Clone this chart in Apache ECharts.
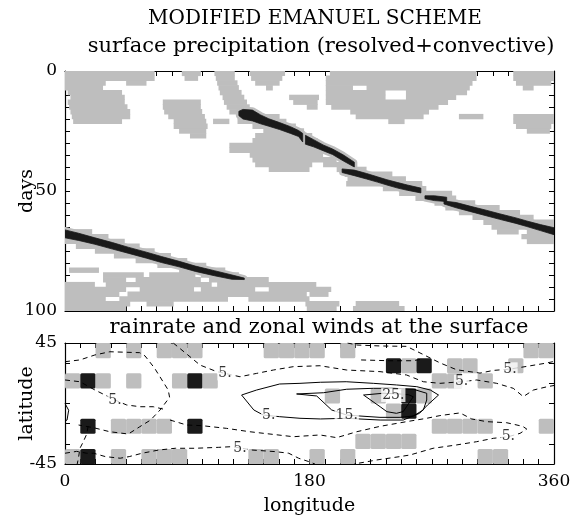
<!DOCTYPE html>
<html><head><meta charset="utf-8">
<script src="https://cdn.jsdelivr.net/npm/echarts@6/dist/echarts.min.js"></script>
<style>html,body{margin:0;padding:0;background:#fff}#c{width:574px;height:517px}</style>
</head><body><div id="c"></div>
<script>
// ---------- texts ----------
const titleText = 'MODIFIED EMANUEL SCHEME';
const subtitleTop = 'surface precipitation (resolved+convective)';
const subtitleBottom = 'rainrate and zonal winds at the surface';
const nameDays = 'days', nameLat = 'latitude', nameLon = 'longitude';

// ---------- tick labels ----------
const dayTickLabels = [0, 50, 100];
const latTickLabels = [45, -45];
const lonTickLabels = [0, 180, 360];

// ---------- top panel: surface precipitation (longitude x days) ----------
// each row: [startDay, lon1, lon2, lon3, lon4, ...] = light (gray) rain intervals over 2 days
const rowDays = 2;
const precipGray = [
  [0, 0,66, 86,100, 110,125, 136,162, 195,303, 330,360],
  [2, 0,66, 88,98, 111,125, 137,160, 192,303, 330,360],
  [4, 0,30, 45,60, 112,127, 140,158, 192,300, 332,358],
  [6, 0,28, 113,128, 148,153, 192,212, 222,298, 337,345],
  [8, 2,42, 114,130, 192,236, 251,296],
  [10, 4,44, 116,132, 165,187, 192,236, 251,288],
  [12, 2,44, 72,100, 117,134, 168,186, 192,282],
  [14, 3,46, 72,100, 119,136, 178,186, 196,275],
  [16, 4,48, 73,101, 121,140, 210,268],
  [18, 5,48, 76,103, 127,158, 214,264, 290,308, 330,360],
  [20, 6,42, 80,104, 109,121, 127,163, 238,250, 330,360],
  [22, 80,105, 138,170, 332,358],
  [24, 84,104, 146,176, 340,357],
  [26, 92,104, 140,182],
  [28, 138,186],
  [30, 121,190],
  [32, 121,195],
  [34, 136,190],
  [36, 138,200],
  [38, 140,182, 190,215],
  [40, 150,180, 200,222],
  [42, 206,241],
  [44, 208,251],
  [46, 207,263],
  [48, 234,266],
  [50, 246,285],
  [52, 258,288],
  [54, 272,302],
  [56, 280,320],
  [58, 290,335],
  [60, 300,345],
  [62, 308,360],
  [64, 314,360],
  [66, 0,20, 318,334, 340,360],
  [68, 0,32, 336,360],
  [70, 0,44, 340,360],
  [72, 8,55],
  [74, 22,66],
  [76, 36,78],
  [78, 52,90],
  [80, 68,104],
  [82, 3,25, 84,118],
  [84, 28,58, 62,96, 100,128],
  [86, 28,45, 52,100, 106,150],
  [88, 0,22, 30,108, 112,185],
  [90, 0,45, 55,95, 100,140, 150,196],
  [92, 0,40, 46,178, 180,194],
  [94, 0,30, 40,120, 135,180],
  [96, 0,48, 60,80, 177,202, 214,246],
  [98, 0,45, 178,200, 212,250]
];
// heavy rain streak pieces: [lon, topDay, bottomDay]
const streakPieces = [
  [[128,16.8,18.6],[131,16.0,20.0],[138,16.3,20.8],[144,18.3,22.0],[150,19.9,23.0],[158,21.5,24.4],[166,23.2,26.0],[172,24.8,27.3],[175,26.0,29.6]],
  [[177,26.8,30.5],[183,28.6,31.6],[190,30.8,33.2],[197,32.5,34.8],[205,35.0,37.5],[213,38.0,40.0]],
  [[204,40.8,42.3],[213,41.3,43.6],[222,42.7,45.0],[230,44.1,46.3],[237,45.3,47.5],[245,46.5,48.8],[252,47.5,49.7],[262,48.8,50.8]],
  [[265,52.0,53.2],[272,52.0,54.0],[281,52.6,54.4]],
  [[279,54.2,55.4],[288,54.8,57.0],[298,56.3,58.5],[310,58.0,60.3],[320,59.5,61.8],[332,61.2,63.5],[340,62.5,64.8],[350,64.0,66.5],[360,65.3,68.2]],
  [[0,66.2,69.5],[10,67.6,70.6],[22,69.5,72.2],[35,71.5,74.2],[47,73.5,76.0],[60,75.5,78.0],[71,77.3,79.8],[84,79.3,81.6],[96,81.3,83.5],[110,83.2,85.3],[123,85.0,86.8],[132,86.3,86.9]]
];

// ---------- bottom panel: rain rate on the model grid ----------
const lonStep = 11.25, latStep = 11.25;
const rainLats = [39.375, 28.125, 16.875, 5.625, -5.625, -16.875, -28.125, -39.375];
// 32 longitude cells per row, '.' none, 'g' light, 'b' heavy
const rainRows = [
  '..g.g.ggg....gggg.g...........gg',
  '.....................bgb.gg..g..',
  'gbg.g..gbg..............gg.g....',
  '.................g..g.bg........',
  '.....................gb.........',
  '.b.gggg.b...............gggg...g',
  '...................gggg.........',
  'gb.g.ggg....gg..g.g........gg...'
];

// zonal wind contours [lon, lat]
const windSolid = [
  [[130,6.3],[141,10],[158,14.5],[173,15],[188,15.8],[207,16.2],[227,15],[244,13.8],[259,12.5],[269,10],[275,6.3],[267,-1],[261,-7.3],[249,-12.3],[232,-12.3],[207,-11],[188,-11.5],[173,-11],[158,-9.8],[146,-8.6],[139,-4.8],[130,6.3]],
  [[170.5,7.1],[185.3,5.6],[196.3,-4.8],[207.4,-8.6],[217,-9.3],[231.9,-10.3],[246.6,-10.3],[256.4,-9.3],[263.8,-4.8],[266.3,2.6],[266.3,7.6],[256.4,10.6],[241.7,11.3],[227,11.3],[207.4,10.6],[190.2,8],[170.5,7.1]],
  [[219.8,6.3],[234,7.6],[245,7.2],[253,6.5],[256.4,5],[249,-6],[244,-7.3],[237,-6.1],[232,-2.4],[219.8,6.3]],
  [[0,0],[2.7,-5],[1.5,-12.3],[0,-13]]
];
const windDashed = [
  [[0,31.1],[11,32.4],[22,36.1],[33,38.5],[55,37.8],[59,35.3],[66,26.2],[76,10],[77,4.6],[70,-4.8],[63,-12.3],[55,-17.3],[46.6,-22.7],[33,-21],[21,-18],[10,-16]],
  [[17,-17],[16,-22.7],[13.5,-28.4],[11,-33.3],[10,-40],[9,-45]],
  [[79.7,45],[92,34.8],[99.4,28.6],[111.7,23.7],[117.8,22.4],[128.8,19.9],[141.1,22.4],[153.4,24.9],[168.1,27.4],[187.7,28.1],[207.4,24.9],[231.9,23.7],[251.5,21.2],[263.8,16.2],[276.1,15],[292,16.2],[303.1,17.5],[317.8,15],[330,11.3],[337.4,5.1],[344.8,10],[354.6,12.4],[360,13.4]],
  [[208,45],[215,43.5],[232,42.8],[251.5,42.5],[263.8,36.4],[276.1,30.2],[288.3,25.1],[305.5,22.6],[315.3,24.6],[327.6,25.6],[339.9,27.6],[354.6,30.1],[360,31.3]],
  [[218,32.4],[239,31.8],[256,31.8],[263,33]],
  [[0,17.5],[11,16.2],[22.1,10],[31.9,5.1],[36.8,2.6],[45.4,-1.1],[55.2,-2.4],[65,-2.4],[74.9,-4.8]],
  [[77.3,-12.3],[89.6,-16],[101,-16.5],[119,-18.5],[136,-21],[153.4,-23],[168.1,-24.7],[187.7,-23.4],[200,-25.4],[214.8,-21],[231.9,-17],[251.5,-13.5],[266.3,-11],[276,-9],[290.8,-7],[299.4,-11.5],[310.4,-13.5],[325.2,-14.3],[337,-17],[339.9,-19],[335,-22.2],[326.4,-24.7],[315.3,-25.9],[303.1,-28.4],[288.4,-30.8],[271,-33.3],[254,-38.3],[246.6,-39.5],[229.5,-42],[213,-45]],
  [[0,-37],[8.6,-35.6],[16,-37],[21.1,-37],[29.7,-39.5],[40.6,-40.7],[47.3,-39.5],[56.7,-37],[69,-34.6],[81.2,-33.3],[95.9,-33.3],[113.2,-32.6],[123,-32.1],[130.3,-33.3],[137.7,-34.6],[154.9,-35.8],[164.7,-37],[172,-40.7],[179.4,-43.2],[184,-45]]
];
const windLabels = [
  [117.8, 22.4, '5.'], [36.8, 2.6, '5.'], [150, -8.6, '5.'], [128.8, -33.3, '5.'],
  [207.4, -8.6, '15.'], [241.7, 6.3, '25.'], [292, 16.2, '5.'], [327.6, 25.4, '5.'], [326.4, -24.7, '5.']
];

// ---------- styles ----------
const GRAY = '#bebebe', BLACK = '#1a1a1a';
const SERIF = "'DejaVu Serif', 'Liberation Serif', serif";

// ---------- build data for the library ----------
const grayItems = [];
precipGray.forEach(r => { for (let i = 1; i + 1 < r.length; i += 2) grayItems.push([r[i], r[i + 1], r[0]]); });
const cellItems = [];
rainRows.forEach((s, j) => { for (let k = 0; k < s.length; k++) { const c = s[k]; if (c !== '.') cellItems.push([k * lonStep + lonStep / 2, rainLats[j], c === 'b' ? 2 : 1]); } });

function streakPoly(api, piece) {
  const pts = [];
  piece.forEach(p => pts.push(api.coord([p[0], p[1]])));
  for (let i = piece.length - 1; i >= 0; i--) pts.push(api.coord([piece[i][0], piece[i][2]]));
  return pts;
}

const axTick = { show: true, inside: true, length: 5, lineStyle: { color: '#000', width: 1 } };
const axLine = { show: true, onZero: false, lineStyle: { color: '#000', width: 1.2 } };
const lblStyle = { color: '#000', fontFamily: SERIF, fontSize: 17 };
const nameStyle = { color: '#000', fontFamily: SERIF, fontSize: 19 };

const chart = echarts.init(document.getElementById('c'), null, { renderer: 'canvas' });
const series = [
  { type: 'custom', xAxisIndex: 0, yAxisIndex: 0, clip: true, silent: true, animation: false,
    data: grayItems, encode: { x: [0, 1], y: 2 },
    renderItem: (params, api) => {
      const a = api.coord([api.value(0), api.value(2)]);
      const b = api.coord([api.value(1), api.value(2) + rowDays]);
      return { type: 'rect', shape: { x: a[0], y: a[1] - 0.3, width: b[0] - a[0], height: b[1] - a[1] + 0.6 }, style: { fill: GRAY } };
    } },
  { type: 'custom', xAxisIndex: 0, yAxisIndex: 0, clip: true, silent: true, animation: false,
    data: streakPieces.map((p, i) => [p[0][0], p[0][1], i]), encode: { x: 0, y: 1 },
    renderItem: (params, api) => ({ type: 'polygon', shape: { points: streakPoly(api, streakPieces[params.dataIndex]) },
      style: { fill: GRAY, stroke: GRAY, lineWidth: 6, lineJoin: 'round' } }) },
  { type: 'custom', xAxisIndex: 0, yAxisIndex: 0, clip: true, silent: true, animation: false, z: 3,
    data: streakPieces.map((p, i) => [p[0][0], p[0][1], i]), encode: { x: 0, y: 1 },
    renderItem: (params, api) => ({ type: 'polygon', shape: { points: streakPoly(api, streakPieces[params.dataIndex]) },
      style: { fill: BLACK, stroke: BLACK, lineWidth: 0.8, lineJoin: 'round' } }) },
  { type: 'custom', xAxisIndex: 2, yAxisIndex: 2, clip: true, silent: true, animation: false,
    data: cellItems, encode: { x: 0, y: 1 },
    renderItem: (params, api) => {
      const a = api.coord([api.value(0) - lonStep / 2, api.value(1) + latStep / 2]);
      const b = api.coord([api.value(0) + lonStep / 2, api.value(1) - latStep / 2]);
      return { type: 'rect', shape: { x: a[0], y: a[1], width: b[0] - a[0], height: b[1] - a[1], r: 1.5 },
        style: { fill: api.value(2) === 2 ? BLACK : GRAY } };
    } }
];
windSolid.forEach(l => series.push({ type: 'line', xAxisIndex: 2, yAxisIndex: 2, data: l, showSymbol: false, symbol: 'none', silent: true, animation: false, z: 4,
  lineStyle: { color: '#000', width: 1, type: 'solid' } }));
windDashed.forEach(l => series.push({ type: 'line', xAxisIndex: 2, yAxisIndex: 2, data: l, showSymbol: false, symbol: 'none', silent: true, animation: false, z: 4,
  lineStyle: { color: '#000', width: 1, type: [5, 4] } }));
series.push({ type: 'scatter', xAxisIndex: 2, yAxisIndex: 2, symbolSize: 0, silent: true, animation: false, z: 6,
  data: windLabels.map(d => ({ value: [d[0], d[1]], name: d[2] })),
  label: { show: true, position: 'inside', formatter: '{b}', color: '#000', fontFamily: SERIF, fontSize: 14, backgroundColor: '#fff', padding: [0, 1] } });

chart.setOption({
  animation: false,
  backgroundColor: '#fff',
  grid: [
    { left: 65, top: 71, width: 489, height: 240, containLabel: false, outerBoundsMode: 'none' },
    { left: 65, top: 343, width: 489, height: 121, containLabel: false, outerBoundsMode: 'none' }
  ],
  xAxis: [
    { gridIndex: 0, type: 'value', min: 0, max: 360, interval: 11.25, position: 'bottom', axisLine: axLine, axisTick: axTick, axisLabel: { show: false }, splitLine: { show: false } },
    { gridIndex: 0, type: 'value', min: 0, max: 360, interval: 11.25, position: 'top', axisLine: axLine, axisTick: axTick, axisLabel: { show: false }, splitLine: { show: false } },
    { gridIndex: 1, type: 'value', min: 0, max: 360, interval: 11.25, position: 'bottom', axisLine: axLine, axisTick: axTick,
      axisLabel: { show: true, margin: 9, formatter: v => lonTickLabels.includes(v) ? String(v) : '', ...lblStyle, showMinLabel: true, showMaxLabel: true, hideOverlap: false },
      splitLine: { show: false }, name: nameLon, nameLocation: 'middle', nameGap: 33, nameMoveOverlap: false, nameTextStyle: nameStyle },
    { gridIndex: 1, type: 'value', min: 0, max: 360, interval: 11.25, position: 'top', axisLine: axLine, axisTick: axTick, axisLabel: { show: false }, splitLine: { show: false } }
  ],
  yAxis: [
    { gridIndex: 0, type: 'value', min: 0, max: 100, interval: 5, inverse: true, position: 'left', axisLine: axLine, axisTick: axTick,
      axisLabel: { show: true, margin: 8, formatter: v => dayTickLabels.includes(v) ? String(v) : '', ...lblStyle, showMinLabel: true, showMaxLabel: true, hideOverlap: false },
      splitLine: { show: false }, name: nameDays, nameLocation: 'middle', nameGap: 28, nameMoveOverlap: false, nameRotate: 90, nameTextStyle: nameStyle },
    { gridIndex: 0, type: 'value', min: 0, max: 100, interval: 5, inverse: true, position: 'right', axisLine: axLine, axisTick: axTick, axisLabel: { show: false }, splitLine: { show: false } },
    { gridIndex: 1, type: 'value', min: -45, max: 45, interval: 15, position: 'left', axisLine: axLine, axisTick: axTick,
      axisLabel: { show: true, margin: 8, formatter: v => latTickLabels.includes(v) ? String(v) : '', ...lblStyle, showMinLabel: true, showMaxLabel: true, hideOverlap: false },
      splitLine: { show: false }, name: nameLat, nameLocation: 'middle', nameGap: 28, nameMoveOverlap: false, nameRotate: 90, nameTextStyle: nameStyle },
    { gridIndex: 1, type: 'value', min: -45, max: 45, interval: 15, position: 'right', axisLine: axLine, axisTick: axTick, axisLabel: { show: false }, splitLine: { show: false } }
  ],
  graphic: [
    { type: 'text', x: 315, y: 19, style: { text: titleText, fill: '#000', font: "20px 'DejaVu Serif', serif", textAlign: 'center', textVerticalAlign: 'middle' } },
    { type: 'text', x: 321, y: 47, style: { text: subtitleTop, fill: '#000', font: "21px 'DejaVu Serif', serif", textAlign: 'center', textVerticalAlign: 'middle' } },
    { type: 'text', x: 319, y: 328, style: { text: subtitleBottom, fill: '#000', font: "21px 'DejaVu Serif', serif", textAlign: 'center', textVerticalAlign: 'middle' } }
  ],
  series: series
});
</script></body></html>
